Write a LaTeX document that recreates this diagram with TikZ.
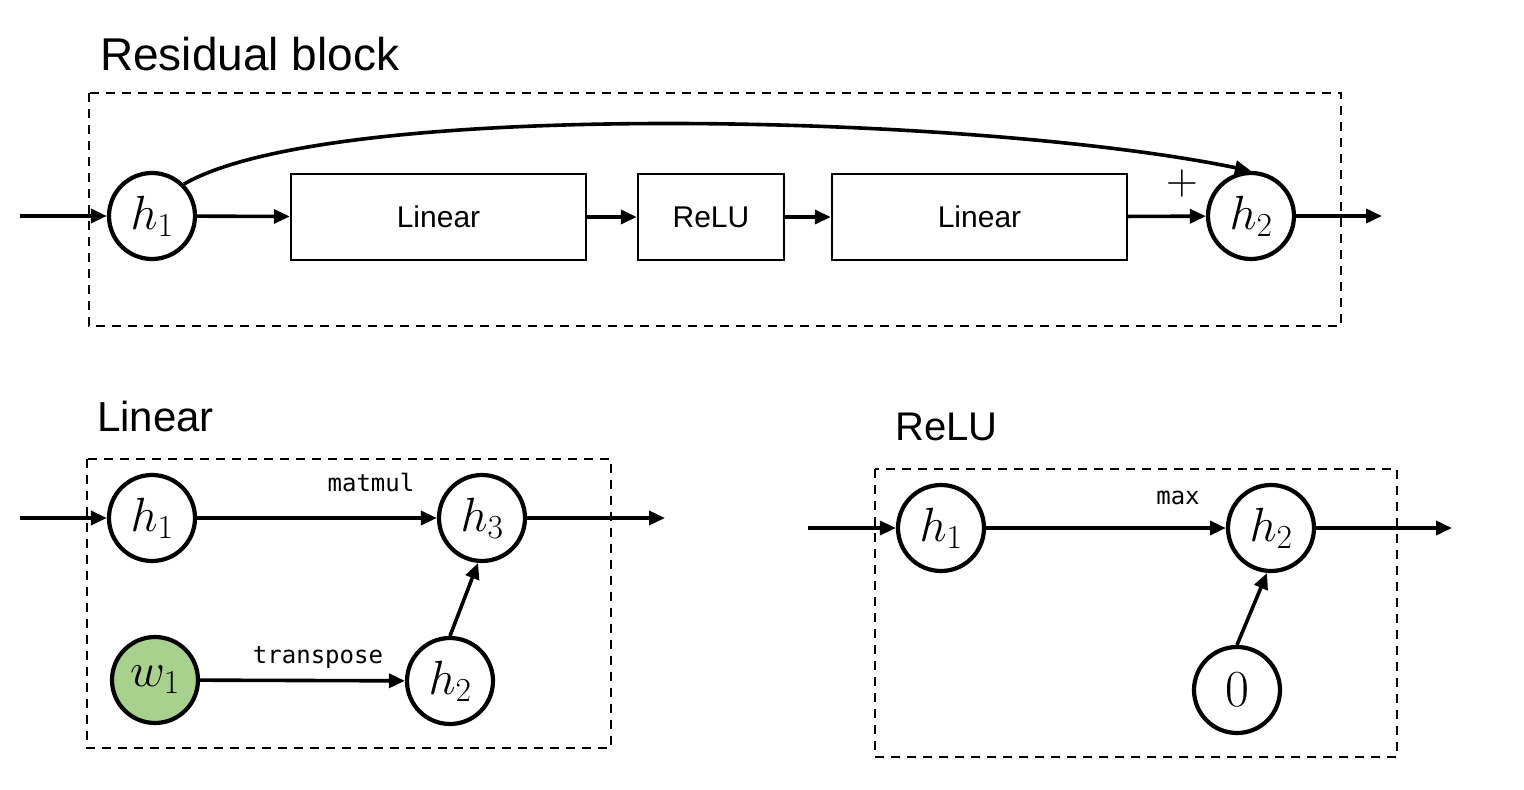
\RequirePackage{fix-cm}
\documentclass[tikz,border=0pt]{standalone}
\usepackage[no-math]{fontspec}
\setmainfont{Liberation Sans}
\newfontfamily\monofont{DejaVu Sans Mono}
\usetikzlibrary{arrows.meta}
\definecolor{wgreen}{RGB}{169,209,142}
\begin{document}
\begin{tikzpicture}[x=1pt,y=-1pt,
  var/.style={circle, draw, line width=4.2pt, minimum size=86pt, inner sep=0pt, font=\fontsize{48}{54}\selectfont},
  blk/.style={draw, line width=2.4pt, minimum height=86pt, inner sep=0pt, font=\fontsize{30}{36}\selectfont},
  arr/.style={line width=3.6pt, -{Triangle[length=16pt,width=14pt]}},
  grp/.style={draw, line width=2.4pt, dash pattern=on 9pt off 7pt},
  ttl/.style={anchor=base west, inner sep=0pt},
  lbl/.style={anchor=base, inner sep=0pt, font=\monofont\fontsize{24}{27}\selectfont}]
\useasboundingbox (0,0) rectangle (1524,790);

% ---------------- Residual block ----------------
\node[ttl, font=\fontsize{46}{52}\selectfont] (ttlres) at (100,70) {Residual block};
\draw[grp] (89,93) rectangle (1341,326);
\coordinate (t_in) at (20,216);
\coordinate (t_out) at (1382,216);
\node[var] (t_h1) at (152,216) {$h_1$};
\node[blk, minimum width=295pt] (t_lin1) at (438.5,217) {Linear};
\node[blk, minimum width=146pt] (t_relu) at (711,217) {ReLU};
\node[blk, minimum width=295pt] (t_lin2) at (979.5,217) {Linear};
\node[var] (t_h2) at (1251,216) {$h_2$};
\node[inner sep=0pt, font=\fontsize{44}{50}\selectfont] (t_plus) at (1182,183) {$+$};
\draw[arr] (t_in) -- (t_h1);
\draw[arr] (t_h1) -- (t_lin1);
\draw[arr] (t_lin1) -- (t_relu);
\draw[arr] (t_relu) -- (t_lin2);
\draw[arr] (t_lin2) -- (t_h2);
\draw[arr] (t_h2) -- (t_out);
\draw[arr] (t_h1.45) .. controls (332,98) and (976,114) .. (t_h2.north);

% ---------------- Linear ----------------
\node[ttl, font=\fontsize{42}{48}\selectfont] (ttllin) at (97,431) {Linear};
\draw[grp] (87,459) rectangle (611,748);
\coordinate (l_in) at (20,518);
\coordinate (l_out) at (665,518);
\node[var] (l_h1) at (152,518) {$h_1$};
\node[var] (l_h3) at (482,518) {$h_3$};
\node[var, fill=wgreen] (l_w1) at (155,680) {$w_1$};
\node[var] (l_h2) at (450,681) {$h_2$};
\node[lbl] (l_matmul) at (371,491) {matmul};
\node[lbl] (l_transpose) at (318,663) {transpose};
\draw[arr] (l_in) -- (l_h1);
\draw[arr] (l_h1) -- (l_h3);
\draw[arr] (l_h3) -- (l_out);
\draw[arr] (l_w1) -- (l_h2);
\draw[arr] (l_h2.north) -- (l_h3.-95);

% ---------------- ReLU ----------------
\node[ttl, font=\fontsize{40}{46}\selectfont] (ttlrelu) at (895,440) {ReLU};
\draw[grp] (875,469) rectangle (1397,757);
\coordinate (r_in) at (808,528);
\coordinate (r_out) at (1452,528);
\node[var] (r_h1) at (941,528) {$h_1$};
\node[var] (r_h2) at (1271,528) {$h_2$};
\node[var, font=\fontsize{52}{58}\selectfont] (r_zero) at (1237,690) {$0$};
\node[lbl] (r_max) at (1178,504) {max};
\draw[arr] (r_in) -- (r_h1);
\draw[arr] (r_h1) -- (r_h2);
\draw[arr] (r_h2) -- (r_out);
\draw[arr] (r_zero.north) -- (r_h2.-95);
\end{tikzpicture}
\end{document}
